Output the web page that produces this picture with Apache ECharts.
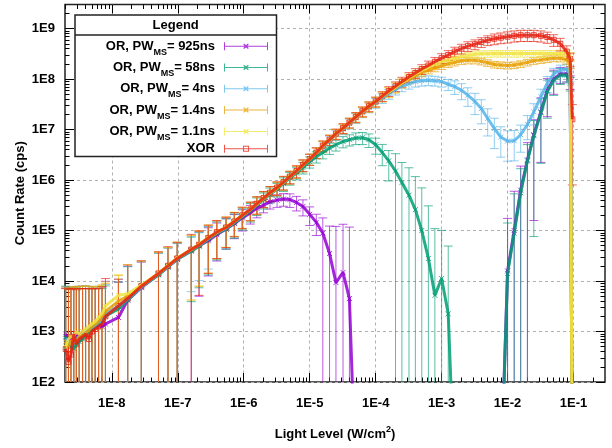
<!DOCTYPE html>
<html><head><meta charset="utf-8">
<script src="https://cdn.jsdelivr.net/npm/echarts@6/dist/echarts.min.js"></script>
<style>html,body{margin:0;padding:0;background:#fff}#c{width:612px;height:448px}</style>
</head><body><div id="c"></div>
<script>
// ---------------- data ----------------
const lightLevel = [2.0e-9,2.2e-9,2.4e-9,2.65e-9,2.9e-9,3.2e-9,3.6e-9,4.0e-9,4.5e-9,5.0e-9,5.6e-9,6.3e-9,7.1e-9,8.0e-9,
  1.26e-8,1.74e-8,2.8e-8,5.1e-8,7.1e-8,9.8e-8,1.6e-7,2.1e-7,2.9e-7,3.9e-7,5.4e-7,7.2e-7,9.5e-7,
  1.26e-6,1.58e-6,2.0e-6,2.5e-6,3.2e-6,4.0e-6,5.0e-6,6.3e-6,7.9e-6,
  1.0e-5,1.26e-5,1.58e-5,2.0e-5,2.5e-5,3.2e-5,4.0e-5,5.0e-5,6.3e-5,7.9e-5,
  1.0e-4,1.26e-4,1.58e-4,2.0e-4,2.5e-4,3.2e-4,4.0e-4,5.0e-4,6.3e-4,7.9e-4,
  1.0e-3,1.26e-3,1.58e-3,2.0e-3,2.5e-3,3.2e-3,4.0e-3,5.0e-3,6.3e-3,7.9e-3,
  1.0e-2,1.26e-2,1.58e-2,2.0e-2,2.5e-2,3.2e-2,4.0e-2,5.0e-2,6.3e-2,7.9e-2,
  8.9e-2,9.6e-2];

const seriesNames = ['OR, PW_MS= 925ns','OR, PW_MS= 58ns','OR, PW_MS= 4ns','OR, PW_MS= 1.4ns','OR, PW_MS= 1.1ns','XOR'];

// count rate (cps); 1 = zero count (off the bottom of the axis); null = no point
const count925 = [8.9e2,6.3e2,7.9e2,7.1e2,8.9e2,7.9e2,1.0e3,8.9e2,1.12e3,1.26e3,
  1.26e3,1.32e3,1.26e3,1.41e3,1.9e3,4.2e3,7.4e3,1.35e4,1.9e4,2.7e4,
  4.0e4,5.0e4,6.3e4,8.3e4,1.07e5,1.38e5,1.78e5,2.24e5,2.75e5,3.2e5,
  3.7e5,4.0e5,4.2e5,4.1e5,3.6e5,3.0e5,2.1e5,1.45e5,8.9e4,3.5e4,
  9.3e3,1.48e4,4.5e3,1,null,null,null,null,null,null,
  null,null,null,null,null,null,null,null,null,null,
  null,null,null,null,null,1,1.58e4,1.0e5,6.3e5,2.5e6,
  7.9e6,2.24e7,6.0e7,1.0e8,1.26e8,1.26e8,8.9e7,1];
const count58 = [7.9e2,5.6e2,5.0e2,4.5e2,5.6e2,6.3e2,7.1e2,8.9e2,1.0e3,1.12e3,
  1.26e3,1.41e3,1.58e3,2.0e3,2.8e3,4.2e3,7.6e3,1.32e4,1.9e4,2.7e4,
  3.9e4,4.9e4,6.6e4,8.7e4,1.07e5,1.41e5,1.86e5,2.45e5,3.2e5,4.1e5,
  5.2e5,6.6e5,8.5e5,1.10e6,1.38e6,1.78e6,2.3e6,2.9e6,3.5e6,4.3e6,
  5.0e6,5.8e6,6.3e6,6.8e6,6.9e6,6.3e6,5.0e6,3.5e6,2.4e6,1.51e6,
  8.9e5,5.0e5,2.6e5,1.0e5,2.8e4,5.2e3,1.12e4,2.24e3,1,null,
  null,null,null,null,null,1,1.41e4,8.9e4,5.6e5,2.4e6,
  7.6e6,2.14e7,5.6e7,9.5e7,1.20e8,1.20e8,8.3e7,1];
const count4 = [7.1e2,6.3e2,5.6e2,6.3e2,7.1e2,7.9e2,8.9e2,1.0e3,1.12e3,1.20e3,
  1.32e3,1.51e3,1.66e3,2.24e3,3.2e3,4.4e3,7.6e3,1.38e4,1.95e4,2.75e4,
  4.1e4,5.1e4,6.9e4,9.1e4,1.12e5,1.48e5,1.95e5,2.6e5,3.3e5,4.3e5,
  5.5e5,6.9e5,8.9e5,1.15e6,1.48e6,1.95e6,2.6e6,3.5e6,4.6e6,6.0e6,
  7.9e6,1.02e7,1.32e7,1.70e7,2.2e7,2.75e7,3.4e7,4.2e7,5.1e7,6.2e7,
  7.2e7,8.1e7,8.9e7,9.3e7,9.5e7,9.3e7,8.9e7,7.9e7,7.1e7,6.0e7,
  4.8e7,3.6e7,2.6e7,1.66e7,1.05e7,7.1e6,5.9e6,6.0e6,7.9e6,1.26e7,
  2.24e7,4.5e7,8.3e7,1.26e8,1.51e8,1.58e8,1.26e8,1];
const count1p4 = [6.3e2,5.0e2,6.3e2,7.1e2,6.3e2,7.9e2,8.3e2,9.5e2,1.05e3,1.26e3,
  1.41e3,1.58e3,2.0e3,2.5e3,4.0e3,5.0e3,7.9e3,1.41e4,2.0e4,2.8e4,
  4.2e4,5.2e4,7.1e4,9.1e4,1.15e5,1.51e5,1.95e5,2.6e5,3.3e5,4.3e5,
  5.5e5,6.9e5,8.9e5,1.15e6,1.48e6,1.95e6,2.6e6,3.5e6,4.7e6,6.2e6,
  8.1e6,1.05e7,1.35e7,1.74e7,2.24e7,2.8e7,3.5e7,4.5e7,5.5e7,6.8e7,
  8.3e7,1.0e8,1.17e8,1.35e8,1.51e8,1.66e8,1.82e8,2.0e8,2.14e8,2.3e8,
  2.35e8,2.35e8,2.24e8,2.1e8,1.95e8,1.9e8,1.86e8,1.9e8,2.0e8,2.14e8,
  2.3e8,2.4e8,2.5e8,2.6e8,2.6e8,2.4e8,2.0e8,1];
const count1p1 = [5.0e2,7.1e2,7.9e2,7.9e2,1.0e3,8.9e2,1.0e3,1.12e3,1.26e3,1.41e3,
  1.58e3,1.9e3,2.24e3,3.2e3,5.2e3,5.6e3,8.3e3,1.45e4,2.0e4,2.9e4,
  4.2e4,5.4e4,7.2e4,9.3e4,1.17e5,1.55e5,2.0e5,2.6e5,3.4e5,4.4e5,
  5.6e5,7.1e5,9.1e5,1.17e6,1.51e6,2.0e6,2.6e6,3.5e6,4.8e6,6.3e6,
  8.3e6,1.07e7,1.38e7,1.78e7,2.3e7,2.9e7,3.6e7,4.6e7,5.6e7,6.9e7,
  8.5e7,1.05e8,1.26e8,1.48e8,1.70e8,1.95e8,2.2e8,2.4e8,2.6e8,2.8e8,
  2.95e8,3.1e8,3.16e8,3.16e8,3.2e8,3.2e8,3.2e8,3.2e8,3.2e8,3.2e8,
  3.2e8,3.2e8,3.2e8,3.2e8,3.2e8,3.16e8,2.8e8,1];
const countXOR = [4.5e2,2.5e2,3.5e2,8.9e2,5.6e2,7.1e2,7.9e2,8.9e2,7.1e2,1.0e3,
  1.12e3,1.26e3,1.41e3,2.0e3,3.2e3,4.5e3,7.9e3,1.41e4,2.0e4,2.8e4,
  4.2e4,5.2e4,7.1e4,9.3e4,1.15e5,1.51e5,2.0e5,2.6e5,3.4e5,4.4e5,
  5.6e5,7.1e5,9.1e5,1.17e6,1.51e6,2.0e6,2.6e6,3.5e6,4.8e6,6.3e6,
  8.3e6,1.07e7,1.38e7,1.78e7,2.3e7,2.9e7,3.6e7,4.6e7,5.8e7,7.2e7,
  8.9e7,1.10e8,1.32e8,1.58e8,1.86e8,2.2e8,2.6e8,3.0e8,3.5e8,4.0e8,
  4.5e8,4.9e8,5.4e8,5.9e8,6.3e8,6.6e8,6.9e8,7.2e8,7.4e8,7.4e8,
  7.4e8,7.2e8,6.8e8,6.0e8,5.0e8,3.5e8,2.5e8,1.6e7];

// error bars: +/- error as a fraction of the count rate
const err925 = [7,10,8,9,7,8,6,7,5.3,4.6,
  4.8,4.5,5,6,4,3.6,2.2,1.7,1.4,1.1,
  1.0,0.9,0.8,0.7,0.6,0.5,0.45,0.4,0.35,0.3,
  0.28,0.28,0.28,0.3,0.32,0.35,0.4,0.45,1.0,2.5,
  12,8,25,0,null,null,null,null,null,null,
  null,null,null,null,null,null,null,null,null,null,
  null,null,null,null,null,0,10,5,2,1.2,
  0.98,0.9,0.7,0.5,0.35,0.3,0.3,0];
const err58 = [9,12,13,15,12,10,9,7,6,5.3,
  4.6,4,3.5,3,2.4,3.6,2.2,1.7,1.4,1.1,
  0.9,0.85,0.8,0.7,0.6,0.5,0.45,0.4,0.38,0.35,
  0.33,0.3,0.3,0.28,0.27,0.26,0.25,0.25,0.25,0.25,
  0.25,0.25,0.25,0.26,0.27,0.3,0.35,0.45,0.6,1.2,
  1.5,2.5,3.5,6,10,20,8,21,0,null,
  null,null,null,null,null,0,9,5,2,1.1,
  0.99,0.9,0.7,0.5,0.35,0.3,0.3,0];
const err4 = [10,11,12,11,10,9,8,7,6,5.5,
  4.8,4.2,3.8,2.8,2.4,3.4,2.2,1.6,1.3,1.0,
  0.85,0.8,0.75,0.7,0.6,0.5,0.45,0.4,0.38,0.35,
  0.33,0.3,0.3,0.28,0.27,0.26,0.25,0.24,0.24,0.23,
  0.23,0.22,0.22,0.22,0.22,0.22,0.22,0.22,0.22,0.22,
  0.22,0.22,0.22,0.22,0.22,0.22,0.22,0.25,0.3,0.35,
  0.4,0.45,0.5,0.55,0.6,0.6,0.6,0.6,0.55,0.5,
  0.45,0.4,0.35,0.3,0.25,0.25,0.3,0];
const err1p4 = [11,13,11,10,11,9,8.5,7.5,6.5,5,
  4.5,4,3.2,2.6,2.2,3.2,2.1,1.6,1.3,1.05,
  0.9,0.85,0.8,0.7,0.6,0.5,0.45,0.4,0.38,0.35,
  0.33,0.3,0.3,0.28,0.27,0.26,0.25,0.24,0.24,0.23,
  0.23,0.22,0.22,0.22,0.22,0.22,0.22,0.22,0.22,0.22,
  0.2,0.2,0.18,0.18,0.16,0.16,0.15,0.15,0.15,0.15,
  0.15,0.15,0.15,0.15,0.15,0.15,0.15,0.15,0.15,0.15,
  0.15,0.15,0.15,0.15,0.16,0.18,0.2,0];
const err1p1 = [13,9,8,8,6,7,6,5.3,4.6,4,
  3.5,3,2.6,2,1.6,2.8,2.0,1.6,1.3,1.05,
  0.9,0.85,0.8,0.7,0.6,0.5,0.45,0.4,0.38,0.35,
  0.33,0.3,0.3,0.28,0.27,0.26,0.25,0.24,0.24,0.23,
  0.23,0.22,0.22,0.22,0.22,0.22,0.22,0.22,0.22,0.22,
  0.2,0.2,0.18,0.18,0.16,0.16,0.15,0.15,0.15,0.15,
  0.15,0.15,0.15,0.15,0.15,0.15,0.15,0.15,0.15,0.15,
  0.15,0.15,0.15,0.15,0.16,0.18,0.2,0];
const errXOR = [15,27,19,7,11,9,8,7,9,6,
  5.3,4.6,4.5,4.6,2.4,3.6,2.2,1.7,1.4,1.1,
  1.0,0.9,0.8,0.7,0.6,0.5,0.45,0.4,0.38,0.35,
  0.33,0.3,0.3,0.28,0.27,0.26,0.25,0.24,0.24,0.23,
  0.23,0.22,0.22,0.22,0.22,0.22,0.22,0.22,0.22,0.22,
  0.22,0.22,0.22,0.22,0.22,0.22,0.22,0.22,0.22,0.22,
  0.22,0.22,0.22,0.22,0.24,0.24,0.25,0.25,0.25,0.25,
  0.25,0.25,0.25,0.26,0.28,0.3,0.3,0.95];

// axes
const xRange = [1.95e-9, 0.30];
const yRange = [1e2, 3.0e9];
const xTicks = [1e-8,1e-7,1e-6,1e-5,1e-4,1e-3,1e-2,1e-1];
const xTickLabels = ['1E-8','1E-7','1E-6','1E-5','1E-4','1E-3','1E-2','1E-1'];
const yTicks = [1e2,1e3,1e4,1e5,1e6,1e7,1e8,1e9];
const yTickLabels = ['1E2','1E3','1E4','1E5','1E6','1E7','1E8','1E9'];

// ---------------- chart ----------------
const FONT = '"Liberation Sans", Arial, Helvetica, sans-serif';
const L = v => Math.log10(v);
const LX = xRange.map(L), LY = yRange.map(L);
const xMajor = xTicks.map(L), yMajor = yTicks.map(L);
function minorLogs(range) {
  const out = [];
  for (let n = Math.floor(range[0]) - 1; n <= Math.ceil(range[1]); n++)
    for (let k = 2; k <= 9; k++) { const v = n + Math.log10(k); if (v > range[0] && v < range[1]) out.push(v); }
  return out;
}
const xMinor = minorLogs(LX), yMinor = minorLogs(LY);
const colors = ['#9400D3','#009E73','#56B4E9','#E69F00','#F0E442','#E51E10'];
const counts = [count925, count58, count4, count1p4, count1p1, countXOR];
const errs = [err925, err58, err4, err1p4, err1p1, errXOR];
const markers = ['x','x','x','x','x','square'];

function labelFor(ticks, labels) {
  return v => { const i = ticks.findIndex(t => Math.abs(t - v) < 1e-6); return i >= 0 ? labels[i] : ''; };
}

const series = [];
seriesNames.forEach((name, si) => {
  const color = colors[si];
  const bars = [], line = [];
  lightLevel.forEach((x, i) => {
    const y = counts[si][i];
    const lx = L(x);
    if (y == null) { line.push([lx, null]); return; }
    line.push([lx, L(y)]);
    const r = errs[si][i];
    if (r > 0) {
      const hi = L(y * (1 + r));
      const lo = r < 1 ? L(y * (1 - r)) : -99;
      bars.push([lx, L(y), lo, hi]);
    }
  });
  const mk = markers[si];
  series.push({
    type: 'custom', name, xAxisIndex: 0, yAxisIndex: 0, silent: true,
    itemStyle: { color }, encode: { x: 0, y: 1 }, data: bars,
    renderItem: (params, api) => {
      const x = api.value(0), y = api.value(1), lo = api.value(2), hi = api.value(3);
      const top = Math.min(hi, LY[1]), bot = Math.max(lo, LY[0]);
      if (top <= LY[0]) return { type: 'group', children: [] };
      const pt = api.coord([x, top]), pb = api.coord([x, bot]);
      const st = { stroke: color, lineWidth: 1, opacity: 0.65 };
      const ch = [{ type: 'line', shape: { x1: pt[0], y1: pt[1], x2: pb[0], y2: pb[1] }, style: st }];
      const cw = 4.5;
      if (hi < LY[1]) ch.push({ type: 'line', shape: { x1: pt[0] - cw, y1: pt[1], x2: pt[0] + cw, y2: pt[1] }, style: st });
      if (lo > LY[0]) ch.push({ type: 'line', shape: { x1: pb[0] - cw, y1: pb[1], x2: pb[0] + cw, y2: pb[1] }, style: st });
      if (y > LY[0] && y < LY[1]) {
        const p = api.coord([x, y]); const m = 2.5;
        const ms = { stroke: color, lineWidth: 1, opacity: 0.8, fill: null };
        if (mk === 'square') ch.push({ type: 'rect', shape: { x: p[0] - m, y: p[1] - m, width: 2 * m, height: 2 * m }, style: ms });
        else {
          ch.push({ type: 'line', shape: { x1: p[0] - m, y1: p[1] - m, x2: p[0] + m, y2: p[1] + m }, style: ms });
          ch.push({ type: 'line', shape: { x1: p[0] - m, y1: p[1] + m, x2: p[0] + m, y2: p[1] - m }, style: ms });
        }
      }
      return { type: 'group', children: ch };
    }
  });
  series.push({
    type: 'line', name, xAxisIndex: 0, yAxisIndex: 0, data: line, silent: true,
    showSymbol: false, symbol: 'none', connectNulls: false,
    itemStyle: { color }, lineStyle: { color, width: 3, opacity: 0.85 }
  });
});

const tickStyle = { color: '#000', width: 1 };
const labelStyle = { color: '#000', fontSize: 13, fontWeight: 'bold', fontFamily: FONT };
function xAx(pos, ticks, len, extra) {
  return Object.assign({
    type: 'value', position: pos, min: LX[0], max: LX[1],
    axisLine: { show: false },
    axisTick: { show: true, inside: true, length: len, customValues: ticks, lineStyle: tickStyle },
    axisLabel: { show: false, customValues: ticks },
    splitLine: { show: false }
  }, extra || {});
}
function yAx(pos, ticks, len, extra) {
  return Object.assign({
    type: 'value', position: pos, min: LY[0], max: LY[1],
    axisLine: { show: false },
    axisTick: { show: true, inside: true, length: len, customValues: ticks, lineStyle: tickStyle },
    axisLabel: { show: false, customValues: ticks },
    splitLine: { show: false }
  }, extra || {});
}
const gridDash = { show: true, lineStyle: { color: '#b0b0b0', width: 1, type: [3, 3] } };

const legendIconX = 'path://M0,0h1v8h-1z M0,3.5h44v1h-44z M43,0h1v8h-1z M19.5,1.5h1l4,4v1h-1l-4,-4z M23.5,1.5h1v1l-4,4h-1v-1z';
const legendIconSq = 'path://M0,0h1v8h-1z M0,3.5h44v1h-44z M43,0h1v8h-1z M19,1h6v6h-6z M20,2v4h4v-4z';

const option = {
  animation: false,
  backgroundColor: '#fff',
  grid: { left: 65, right: 7, top: 4.5, bottom: 64, show: true, borderColor: '#222', borderWidth: 1.5, backgroundColor: 'transparent' },
  xAxis: [
    xAx('bottom', xMajor, 9, {
      axisLabel: { show: true, customValues: xMajor, margin: 15, formatter: labelFor(xMajor, xTickLabels), ...labelStyle },
      splitLine: gridDash,
      name: 'Light Level (W/cm{sup|2})', nameLocation: 'middle', nameGap: 44,
      nameTextStyle: { color: '#000', fontSize: 13, fontWeight: 'bold', fontFamily: FONT,
        rich: { sup: { fontSize: 9, fontWeight: 'bold', fontFamily: FONT, color: '#000', padding: [0, 0, 9, 0], lineHeight: 16 } } }
    }),
    xAx('bottom', xMinor, 4.5),
    xAx('top', xMajor, 9),
    xAx('top', xMinor, 4.5)
  ],
  yAxis: [
    yAx('left', yMajor, 9, {
      axisLabel: { show: true, customValues: yMajor, margin: 10, formatter: labelFor(yMajor, yTickLabels), ...labelStyle },
      splitLine: gridDash,
      name: 'Count Rate (cps)', nameLocation: 'middle', nameGap: 38, nameRotate: 90, nameMoveOverlap: false,
      nameTextStyle: { color: '#000', fontSize: 13, fontWeight: 'bold', fontFamily: FONT }
    }),
    yAx('left', yMinor, 4.5),
    yAx('right', yMajor, 9),
    yAx('right', yMinor, 4.5)
  ],
  legend: {
    orient: 'vertical', right: 344, top: 35.7, padding: 0, itemGap: 0.3,
    itemWidth: 44, itemHeight: 8, align: 'right', selectedMode: false,
    itemStyle: { opacity: 0.75 },
    data: seriesNames.map((n, i) => ({ name: n, icon: markers[i] === 'square' ? legendIconSq : legendIconX })),
    formatter: n => (n.indexOf('PW_MS') >= 0 ? '{a|' + n.replace('PW_MS', 'PW}{s|MS}{a|') + '}' : '{a|' + n + '}') + '{g|}',
    textStyle: {
      color: '#000', fontSize: 13, fontWeight: 'bold', fontFamily: FONT,
      rich: {
        a: { fontSize: 13, fontWeight: 'bold', fontFamily: FONT, color: '#000', lineHeight: 20 },
        s: { fontSize: 9, fontWeight: 'bold', fontFamily: FONT, color: '#000', lineHeight: 20, padding: [12, 0, 0, 0] },
        g: { width: 4, lineHeight: 20 }
      }
    }
  },
  graphic: [
    { type: 'rect', z: 3, shape: { x: 75, y: 15, width: 201.5, height: 141.5 }, style: { fill: '#fff', stroke: '#222', lineWidth: 1.5 } },
    { type: 'line', z: 3, shape: { x1: 75, y1: 35, x2: 276.5, y2: 35 }, style: { stroke: '#222', lineWidth: 1.5 } },
    { type: 'text', z: 3, x: 175.7, y: 25.5, style: { text: 'Legend', font: 'bold 13px ' + FONT, fill: '#000', align: 'center', verticalAlign: 'middle', textAlign: 'center', textVerticalAlign: 'middle' } }
  ],
  series
};
const chart = echarts.init(document.getElementById('c'), null, { renderer: 'canvas' });
chart.setOption(option);
</script>
</body></html>
